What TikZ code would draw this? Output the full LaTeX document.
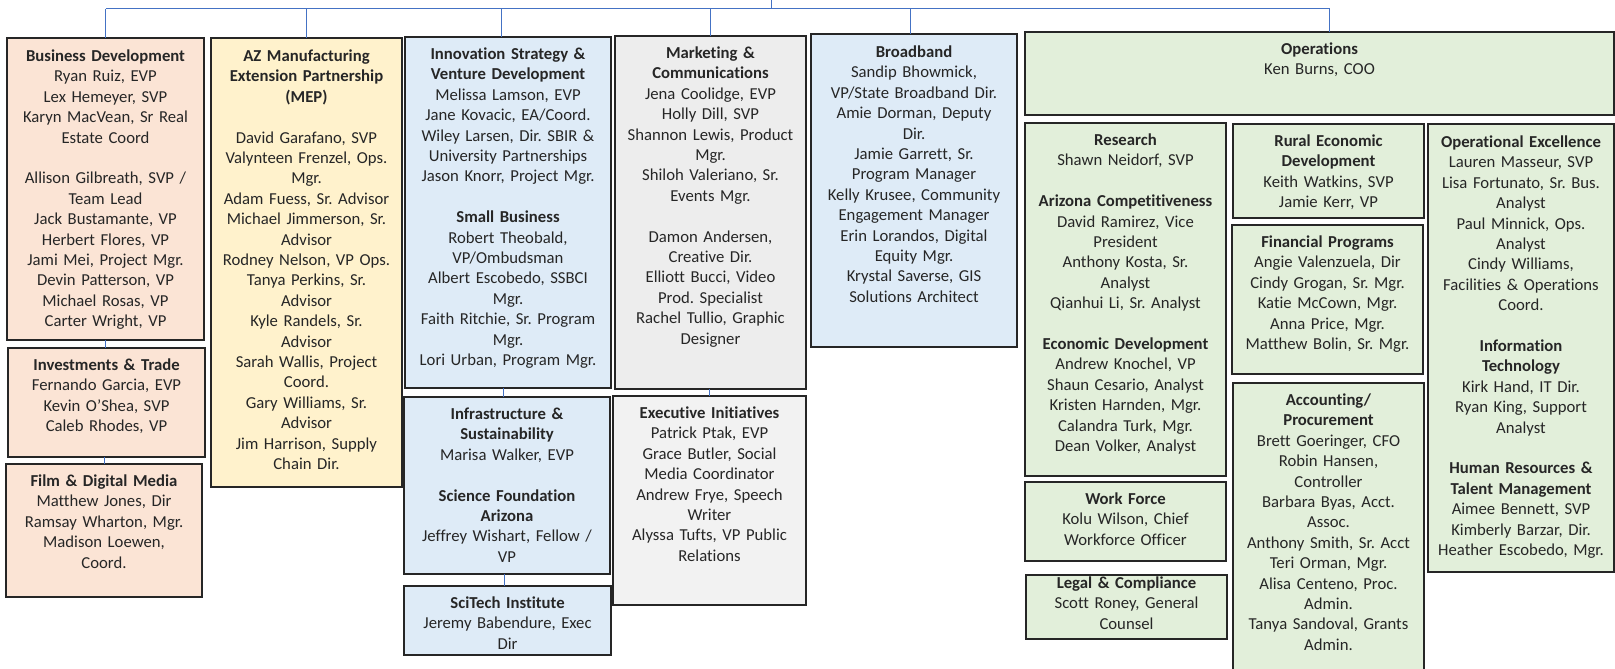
\documentclass[tikz,border=0pt]{standalone}
\usepackage{fontspec}
\setmainfont{Carlito}[Ligatures={NoCommon}]
\usetikzlibrary{calc}
\frenchspacing
\definecolor{peach}{HTML}{FBE4D5}
\definecolor{cream}{HTML}{FFF2CC}
\definecolor{skyb}{HTML}{DEEBF7}
\definecolor{greyb}{HTML}{EDEDED}
\definecolor{greyc}{HTML}{F2F2F2}
\definecolor{greenb}{HTML}{E2EFDA}
\definecolor{connb}{HTML}{4472C4}
\definecolor{inkc}{HTML}{262626}
\tikzset{
  boxst/.style={draw=inkc, line width=1.5pt, outer sep=0pt, inner sep=0pt},
  txtst/.style={anchor=base, align=center, inner sep=0pt, text=inkc,
                font=\fontsize{16.7}{20.4}\selectfont\frenchspacing},
  conn/.style={draw=connb, line width=1pt}
}
\newcommand{\gapline}{\\[20.4pt]}
% name, x1, y1, x2, y2, fill, first-baseline offset, text
\newcommand{\orgbox}[8]{%
  \node[boxst, fill=#6, minimum width={#4-#2}, minimum height={#5-#3}, anchor=north west] (#1) at (#2,#3) {};
  \node[txtst, text width={#4-#2+10}] (#1t) at ($(#1.north)+(0,#7)$) {#8};
}
\begin{document}
\begin{tikzpicture}[x=1pt,y=-1pt]
\useasboundingbox (0,0) rectangle (1615,669);

\orgbox{bd}{7}{38}{204}{340}{peach}{23.5}{\textbf{Business Development}\\Ryan Ruiz, EVP\\Lex Hemeyer, SVP\\Karyn MacVean, Sr Real\\Estate Coord\gapline Allison Gilbreath, SVP /\\Team Lead\\Jack Bustamante, VP\\Herbert Flores, VP\\Jami Mei, Project Mgr.\\Devin Patterson, VP\\Michael Rosas, VP\\Carter Wright, VP}

\orgbox{inv}{8}{348}{205}{457}{peach}{22.5}{\textbf{Investments \& Trade}\\Fernando Garcia, EVP\\Kevin O’Shea, SVP\\Caleb Rhodes, VP}

\orgbox{film}{6}{464}{202}{597}{peach}{22.5}{\textbf{Film \& Digital Media}\\Matthew Jones, Dir\\Ramsay Wharton, Mgr.\\Madison Loewen,\\Coord.}

\orgbox{mep}{211}{38}{402}{487}{cream}{23.5}{\textbf{AZ Manufacturing}\\\textbf{Extension Partnership}\\\textbf{(MEP)}\gapline David Garafano, SVP\\Valynteen Frenzel, Ops.\\Mgr.\\Adam Fuess, Sr. Advisor\\Michael Jimmerson, Sr.\\Advisor\\Rodney Nelson, VP Ops.\\Tanya Perkins, Sr.\\Advisor\\Kyle Randels, Sr.\\Advisor\\Sarah Wallis, Project\\Coord.\\Gary Williams, Sr.\\Advisor\\Jim Harrison, Supply\\Chain Dir.}

\orgbox{inn}{405}{37}{611}{388}{skyb}{22.5}{\textbf{Innovation Strategy \&}\\\textbf{Venture Development}\\Melissa Lamson, EVP\\Jane Kovacic, EA/Coord.\\Wiley Larsen, Dir. SBIR \&\\University Partnerships\\Jason Knorr, Project Mgr.\gapline\textbf{Small Business}\\Robert Theobald,\\VP/Ombudsman\\Albert Escobedo, SSBCI\\Mgr.\\Faith Ritchie, Sr. Program\\Mgr.\\Lori Urban, Program Mgr.}

\orgbox{infra}{404}{397}{610}{574}{skyb}{22.5}{\textbf{Infrastructure \&}\\\textbf{Sustainability}\\Marisa Walker, EVP\gapline\textbf{Science Foundation}\\\textbf{Arizona}\\Jeffrey Wishart, Fellow /\\VP}

\orgbox{sci}{404}{586}{611}{655}{skyb}{22.5}{\textbf{SciTech Institute}\\Jeremy Babendure, Exec\\Dir}

\orgbox{mkt}{615}{36}{806}{389}{greyb}{22.5}{\textbf{Marketing \&}\\\textbf{Communications}\\Jena Coolidge, EVP\\Holly Dill, SVP\\Shannon Lewis, Product\\Mgr.\\Shiloh Valeriano, Sr.\\Events Mgr.\gapline Damon Andersen,\\Creative Dir.\\Elliott Bucci, Video\\Prod. Specialist\\Rachel Tullio, Graphic\\Designer}

\orgbox{exec}{613}{396}{806}{605}{greyc}{22.5}{\textbf{Executive Initiatives}\\Patrick Ptak, EVP\\Grace Butler, Social\\Media Coordinator\\Andrew Frye, Speech\\Writer\\Alyssa Tufts, VP Public\\Relations}

\orgbox{bb}{811}{34}{1017}{347}{skyb}{23.5}{\textbf{Broadband}\\Sandip Bhowmick,\\VP/State Broadband Dir.\\Amie Dorman, Deputy\\Dir.\\Jamie Garrett, Sr.\\Program Manager\\Kelly Krusee, Community\\Engagement Manager\\Erin Lorandos, Digital\\Equity Mgr.\\Krystal Saverse, GIS\\Solutions Architect}

\orgbox{ops}{1025}{32}{1614}{115}{greenb}{22.5}{\textbf{Operations}\\Ken Burns, COO}

\orgbox{res}{1025}{123}{1226}{476}{greenb}{22.5}{\textbf{Research}\\Shawn Neidorf, SVP\gapline\textbf{Arizona Competitiveness}\\David Ramirez, Vice\\President\\Anthony Kosta, Sr.\\Analyst\\Qianhui Li, Sr. Analyst\gapline\textbf{Economic Development}\\Andrew Knochel, VP\\Shaun Cesario, Analyst\\Kristen Harnden, Mgr.\\Calandra Turk, Mgr.\\Dean Volker, Analyst}

\orgbox{wf}{1025}{482}{1226}{561}{greenb}{22.5}{\textbf{Work Force}\\Kolu Wilson, Chief\\Workforce Officer}

\orgbox{legal}{1026}{575}{1227}{639}{greenb}{13.5}{\textbf{Legal \& Compliance}\\Scott Roney, General\\Counsel}

\orgbox{rural}{1233}{124}{1424}{218}{greenb}{22.5}{\textbf{Rural Economic}\\\textbf{Development}\\Keith Watkins, SVP\\Jamie Kerr, VP}

\orgbox{fin}{1232}{225}{1423}{374}{greenb}{22.5}{\textbf{Financial Programs}\\Angie Valenzuela, Dir\\Cindy Grogan, Sr. Mgr.\\Katie McCown, Mgr.\\Anna Price, Mgr.\\Matthew Bolin, Sr. Mgr.}

\orgbox{acct}{1233}{383}{1424}{674}{greenb}{22.5}{\textbf{Accounting/}\\\textbf{Procurement}\\Brett Goeringer, CFO\\Robin Hansen,\\Controller\\Barbara Byas, Acct.\\Assoc.\\Anthony Smith, Sr. Acct\\Teri Orman, Mgr.\\Alisa Centeno, Proc.\\Admin.\\Tanya Sandoval, Grants\\Admin.}

\orgbox{opx}{1428}{124}{1614}{572}{greenb}{23.5}{\textbf{Operational Excellence}\\Lauren Masseur, SVP\\Lisa Fortunato, Sr. Bus.\\Analyst\\Paul Minnick, Ops.\\Analyst\\Cindy Williams,\\Facilities \& Operations\\Coord.\gapline\textbf{Information}\\\textbf{Technology}\\Kirk Hand, IT Dir.\\Ryan King, Support\\Analyst\gapline\textbf{Human Resources \&}\\\textbf{Talent Management}\\Aimee Bennett, SVP\\Kimberly Barzar, Dir.\\Heather Escobedo, Mgr.}

% connectors
\coordinate (ceo) at (771,0);
\coordinate (bus) at (771,9);
\coordinate (inntop) at ([xshift=-7pt]inn.north);
\coordinate (bbtop) at ([xshift=-4pt]bb.north);
\coordinate (opstop) at ([xshift=10pt]ops.north);
\coordinate (infratop) at ([xshift=-4pt]infra.north);
\coordinate (scitop) at ([xshift=-3.5pt]sci.north);
\draw[conn] (ceo) -- (bus);
\draw[conn] (bd.north |- bus) -- (opstop |- bus);
\draw[conn] (bd.north) -- (bd.north |- bus);
\draw[conn] (mep.north) -- (mep.north |- bus);
\draw[conn] (inntop) -- (inntop |- bus);
\draw[conn] (mkt.north) -- (mkt.north |- bus);
\draw[conn] (bbtop) -- (bbtop |- bus);
\draw[conn] (opstop) -- (opstop |- bus);
\draw[conn] (bd.south) -- (bd.south |- inv.north);
\draw[conn] (film.north) -- (film.north |- inv.south);
\draw[conn] (infratop) -- (infratop |- inn.south);
\draw[conn] (scitop) -- (scitop |- infra.south);
\draw[conn] (exec.north) -- (exec.north |- mkt.south);
\end{tikzpicture}
\end{document}
